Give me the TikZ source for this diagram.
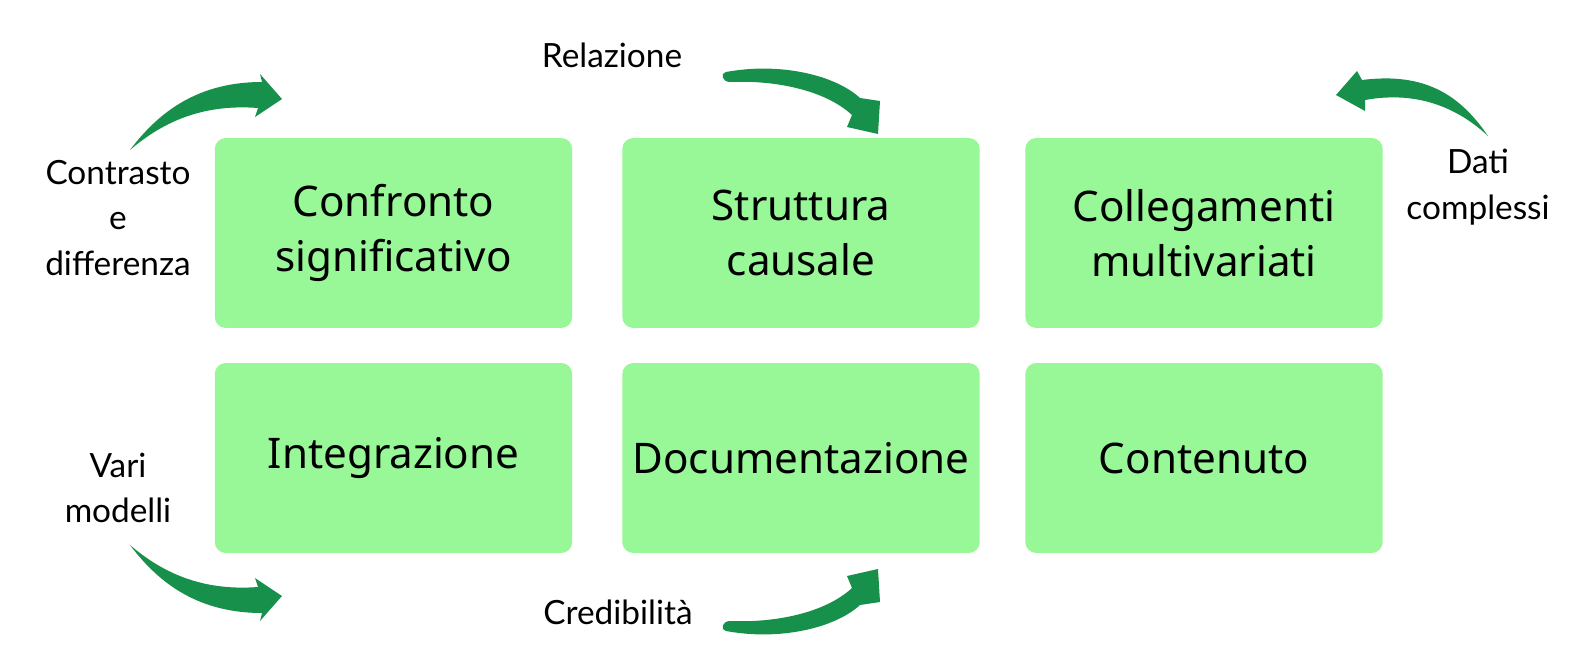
\documentclass[tikz,border=0pt]{standalone}
\usepackage{fontspec}
\setmainfont{Noto Sans}
\newfontfamily\lightf{Lato}
\definecolor{boxg}{HTML}{98F898}
\definecolor{arrg}{HTML}{16904A}
\begin{document}
\begin{tikzpicture}[x=0.02cm,y=-0.02cm,
  box/.style={fill=boxg,rounded corners=0.22cm,inner sep=0,minimum width=7.15cm,minimum height=3.8cm,align=center,font=\fontsize{24}{31}\selectfont},
  lab/.style={align=center,font=\lightf\fontsize{19}{26}\selectfont,inner sep=0},
  arr/.style={fill=arrg}]
\useasboundingbox (0,0) rectangle (1588,672);
\node[box] (b1) at (393.5,233) {Confronto\\significativo};
\node[box] (b2) at (801,233) {Struttura\\causale};
\node[box] (b3) at (1204,233) {Collegamenti\\multivariati};
\node[box] (b4) at (393.5,458) {Integrazione};
\node[box] (b5) at (801,458) {Documentazione};
\node[box] (b6) at (1204,458) {Contenuto};
\node[lab] (l1) at (118,218) {Contrasto\\e\\differenza};
\node[lab] (l2) at (612,55) {Relazione};
\node[lab] (l3) at (1478,187) {Dati\\complessi};
\node[lab] (l4) at (118,488) {Vari\\modelli};
\node[lab] (l5) at (618,612) {Credibilità};
% arrow 1
\fill[arr] (130,150) .. controls (160,110) and (200,82) .. (262,82) -- (260,74) -- (282,99) -- (255,117) -- (258,108) .. controls (205,104) and (165,120) .. (130,150) -- cycle;
% arrow 4 (mirror of 1)
\fill[arr] (130,545) .. controls (160,585) and (200,613) .. (262,613) -- (260,621) -- (282,596) -- (255,578) -- (258,587) .. controls (205,591) and (165,575) .. (130,545) -- cycle;
% arrow 2
\fill[arr] (726,72) .. controls (780,62) and (835,75) .. (860,98) -- (880,101) -- (878,134) -- (847,127) -- (852,115) .. controls (825,90) and (775,80) .. (730,82) .. controls (722,82) and (720,73) .. (726,72) -- cycle;
% arrow 5 (mirror of 2)
\fill[arr] (726,631) .. controls (780,641) and (835,628) .. (860,605) -- (880,602) -- (878,569) -- (847,576) -- (852,588) .. controls (825,613) and (775,623) .. (730,621) .. controls (722,621) and (720,630) .. (726,631) -- cycle;
% arrow 3
\fill[arr] (1488,136) .. controls (1460,95) and (1425,72) .. (1362,80) -- (1357,71) -- (1336,95) -- (1365,111) -- (1365,100) .. controls (1420,90) and (1460,110) .. (1488,136) -- cycle;
\end{tikzpicture}
\end{document}
